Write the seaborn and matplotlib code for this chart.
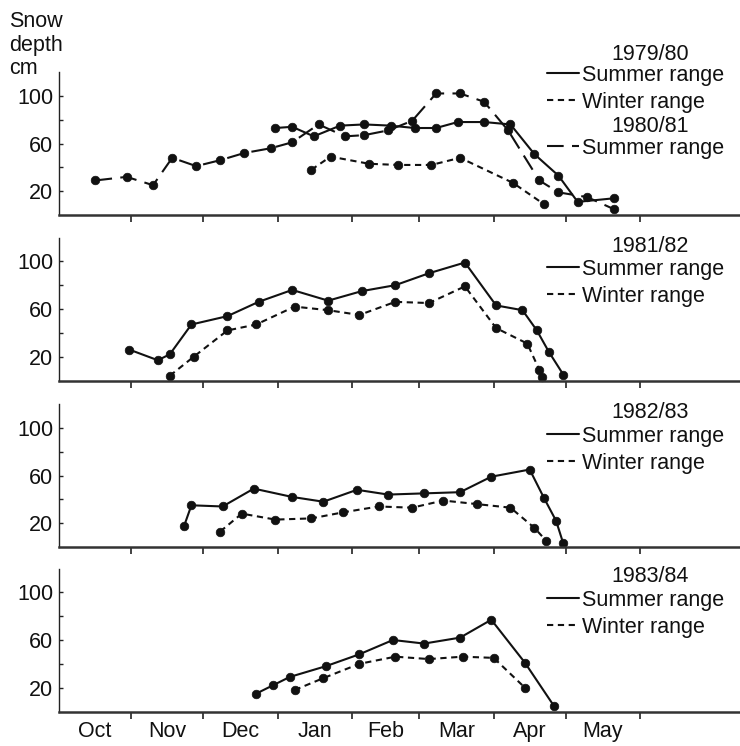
import matplotlib
matplotlib.use("Agg")
import matplotlib.pyplot as plt
import seaborn as sns
from matplotlib.lines import Line2D

# x values: day of the snow season, counted from 1 October
# ---------------- 1979/80 and 1980/81 ----------------
sum7980_day = [91, 98, 107, 118, 128, 139, 149, 158, 167, 178, 189, 199, 209, 217, 232]
sum7980_cm = [73, 74, 66, 75, 76, 75, 73, 73, 78, 78, 76, 51, 33, 11, 14]
win7980_day = [106, 114, 130, 142, 156, 168, 190, 203]
win7980_cm = [38, 49, 43, 42, 42, 48, 27, 9]
sum8081_day = [16, 29, 40, 48, 58, 68, 78, 89, 98, 109, 120, 128, 138, 148, 158, 168, 178,
               188, 201, 209, 221, 232]
sum8081_cm = [29, 32, 25, 48, 41, 46, 52, 56, 61, 76, 66, 67, 71, 79, 102, 102, 95,
              71, 29, 19, 15, 5]
# ---------------- 1981/82 ----------------
sum8182_day = [30, 42, 47, 56, 71, 84, 98, 113, 127, 141, 155, 170, 183, 194, 200, 205, 211]
sum8182_cm = [26, 17, 22, 47, 54, 66, 76, 67, 75, 80, 90, 99, 63, 59, 42, 24, 5]
win8182_day = [47, 57, 71, 83, 99, 113, 126, 141, 155, 170, 183, 196, 201, 202]
win8182_cm = [4, 20, 42, 47, 62, 59, 55, 66, 65, 79, 44, 31, 9, 3]
# ---------------- 1982/83 ----------------
sum8283_day = [53, 56, 69, 82, 98, 111, 125, 138, 153, 168, 181, 197, 203, 208, 211]
sum8283_cm = [18, 35, 34, 49, 42, 38, 48, 44, 45, 46, 59, 65, 41, 22, 3]
win8283_day = [68, 77, 91, 106, 119, 134, 148, 161, 175, 189, 199, 204]
win8283_cm = [13, 28, 23, 24, 29, 34, 33, 39, 36, 33, 16, 5]
# ---------------- 1983/84 ----------------
sum8384_day = [83, 90, 97, 112, 126, 140, 153, 168, 181, 195, 207]
sum8384_cm = [15, 22, 29, 38, 48, 60, 57, 62, 77, 41, 5]
win8384_day = [99, 111, 126, 141, 155, 169, 182, 195]
win8384_cm = [18, 28, 40, 46, 44, 46, 45, 20]

month_labels = ["Oct", "Nov", "Dec", "Jan", "Feb", "Mar", "Apr", "May"]
month_starts = [0, 31, 61, 92, 123, 151, 182, 212, 243]
yticks = [20, 40, 60, 80, 100]
ytick_labels = ["20", "", "60", "", "100"]

season_labels = ["1979/80", "1981/82", "1982/83", "1983/84"]
second_season = "1980/81"
summer_label = "Summer range"
winter_label = "Winter range"

sns.set_style("ticks")
plt.rcParams["font.family"] = ["Liberation Sans", "DejaVu Sans"]
FS = 15.5
INK = "#111111"

W, H = 740, 746
fig = plt.figure(figsize=(W / 100, H / 100), dpi=100)

SOLID = "-"
SHORT = (0, (3, 2.2))
LONG = (0, (8, 4))

zero_px = [215, 380.5, 547, 711.5]
ax_left_px = 59
px_per_day = 2.399
x0_day = 0.8
xmax_day = x0_day + (W - ax_left_px) / px_per_day
ax_h_px = 143

panels = [
    [(sum7980_day, sum7980_cm, SOLID), (win7980_day, win7980_cm, SHORT),
     (sum8081_day, sum8081_cm, LONG)],
    [(sum8182_day, sum8182_cm, SOLID), (win8182_day, win8182_cm, SHORT)],
    [(sum8283_day, sum8283_cm, SOLID), (win8283_day, win8283_cm, SHORT)],
    [(sum8384_day, sum8384_cm, SOLID), (win8384_day, win8384_cm, SHORT)],
]

axes = []
for i, series in enumerate(panels):
    ax = fig.add_axes([ax_left_px / W, (H - zero_px[i]) / H,
                       (W - ax_left_px) / W, ax_h_px / H])
    axes.append(ax)
    for days, cm, ls in series:
        sns.lineplot(x=days, y=cm, ax=ax, sort=False, estimator=None, color=INK,
                     lw=1.5, linestyle=ls, marker="o", markersize=6.2,
                     markeredgecolor=INK, markerfacecolor=INK, markeredgewidth=0.5,
                     legend=False, clip_on=False)
    ax.set_xlim(x0_day, xmax_day)
    ax.set_ylim(0, 120)
    ax.set_xlabel("")
    ax.set_ylabel("")
    for s in ["top", "right"]:
        ax.spines[s].set_visible(False)
    ax.spines["left"].set_linewidth(1.0)
    ax.spines["left"].set_color("#222222")
    ax.spines["bottom"].set_linewidth(1.8)
    ax.spines["bottom"].set_color("#333333")
    ax.set_xticks(month_starts[1:])
    ax.set_xticks([(a + b) / 2 for a, b in zip(month_starts[:-1], month_starts[1:])],
                  minor=True)
    ax.tick_params(axis="x", which="major", direction="out", length=5, width=1.2,
                   color="#222222", labelbottom=False)
    if i == len(panels) - 1:
        ax.set_xticklabels(month_labels, minor=True)
        ax.tick_params(axis="x", which="minor", length=0, pad=7, labelsize=FS,
                       labelcolor=INK)
    else:
        ax.tick_params(axis="x", which="minor", length=0, labelbottom=False)
    ax.set_yticks(yticks)
    ax.set_yticklabels(ytick_labels)
    ax.tick_params(axis="y", direction="in", length=3, width=1.0, pad=4,
                   labelsize=FS, labelcolor=INK, color="#222222")


def legend_at(ax, entries, top_px):
    handles = [Line2D([], [], color=INK, lw=1.5, linestyle=ls) for ls, _ in entries]
    labels = [lab for _, lab in entries]
    leg = ax.legend(handles, labels, loc="upper left",
                    bbox_to_anchor=(547 / W, 1 - top_px / H),
                    bbox_transform=fig.transFigure, frameon=False, fontsize=FS,
                    handlelength=1.5, handletextpad=0.12, labelspacing=0.26,
                    borderpad=0, borderaxespad=0)
    for t in leg.get_texts():
        t.set_color(INK)
    return leg


def header(text, center_px):
    fig.text(650 / W, 1 - center_px / H, text, ha="center", va="center",
             fontsize=FS, color=INK)


# panel 1 legends
header(season_labels[0], 54)
leg1 = legend_at(axes[0], [(SOLID, summer_label), (SHORT, winter_label)], 65)
axes[0].add_artist(leg1)
header(second_season, 126)
legend_at(axes[0], [(LONG, summer_label)], 138)

hdr_px = [None, 246, 413, 577]
for i in range(1, 4):
    header(season_labels[i], hdr_px[i])
    legend_at(axes[i], [(SOLID, summer_label), (SHORT, winter_label)], hdr_px[i] + 13)

fig.text(9 / W, 1 - 11 / H, "Snow\ndepth\ncm", ha="left", va="top", fontsize=FS,
         color=INK, linespacing=1.17)

fig.savefig("out.png", dpi=100)
